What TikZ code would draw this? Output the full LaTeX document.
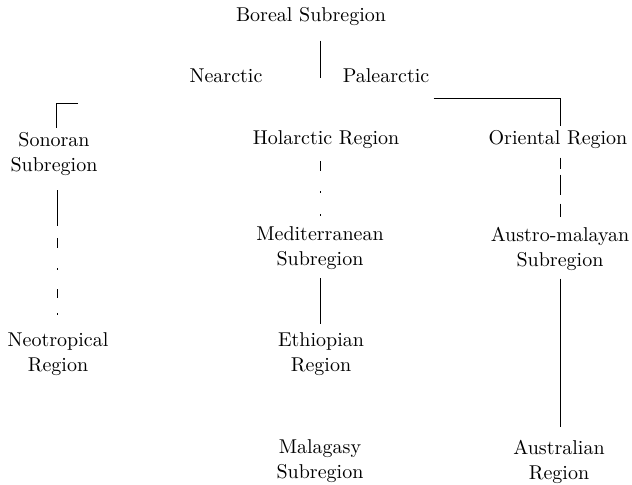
\documentclass[tikz,border=0pt]{standalone}
\usepackage{tikz}
\usetikzlibrary{positioning}

\begin{document}
\begin{tikzpicture}[
        x=0.5pt, y=-0.5pt,
        region/.style={inner sep=2pt, align=center, font=\fontsize{10}{12.5}\selectfont},
        link/.style={thin},
        brokenwest/.style={thin, dash pattern=on 0pt off 6pt on 5pt off 10pt on 1pt off 9.5pt on 4.5pt off 7.5pt on 1pt off 30pt},
        brokenmid/.style={thin, dash pattern=on 0pt off 4pt on 5pt off 10pt on 1pt off 10.5pt on 1pt off 30pt},
        brokeneast/.style={thin, dash pattern=on 0pt off 2pt on 5.5pt off 3pt on 10pt off 4.5pt on 6.5pt off 30pt}
    ]
    \useasboundingbox (0,0) rectangle (632,484);

    \node (boreal) [region] at (311,17) {Boreal Subregion};
    \node (nearctic) [region] at (226,76) {Nearctic};
    \node (palearctic) [region] at (386,76) {Palearctic};
    \node (sonoran) [region] at (54,154) {Sonoran\\Subregion};
    \node (holarctic) [region] at (326,140) {Holarctic Region};
    \node (oriental) [region] at (558,140) {Oriental Region};
    \node (medit) [region] at (320,248.5) {Mediterranean\\Subregion};
    \node (austro) [region] at (560,248.5) {Austro-malayan\\Subregion};
    \node (neotrop) [region] at (58,354) {Neotropical\\Region};
    \node (ethiop) [region] at (321,354) {Ethiopian\\Region};
    \node (malagasy) [region] at (320,461) {Malagasy\\Subregion};
    \node (austral) [region] at (559,461.5) {Australian\\Region};

    \coordinate (fork) at (320,78);
    \coordinate (eastknee) at (560,98);
    \coordinate (westknee) at (56,103);
    \coordinate (westtick) at (78,103);
    \coordinate (sonbreak) at (57,226);

    % stem and branches
    \draw [link, shorten <=5pt] (boreal.south -| fork) -- (fork);
    \draw [link] (palearctic.south east |- eastknee) -- (eastknee) -- (oriental.north -| eastknee);
    \draw [link] (westtick) -- (westknee) -- (sonoran.north -| westknee);

    % west column
    \draw [link, shorten <=5pt] (sonoran.south -| sonbreak) -- (sonbreak);
    \draw [brokenwest] (sonbreak) -- (neotrop.north -| sonbreak);

    % middle column
    \draw [brokenmid] (holarctic.south -| medit.north) -- (medit.north);
    \draw [link, shorten <=2pt, shorten >=2pt] (medit.south) -- (medit.south |- ethiop.north);

    % east column
    \draw [brokeneast] (oriental.south -| austro.north) -- (austro.north);
    \draw [link, shorten <=2pt, shorten >=4pt] (austro.south) -- (austro.south |- austral.north);

\end{tikzpicture}
\end{document}
